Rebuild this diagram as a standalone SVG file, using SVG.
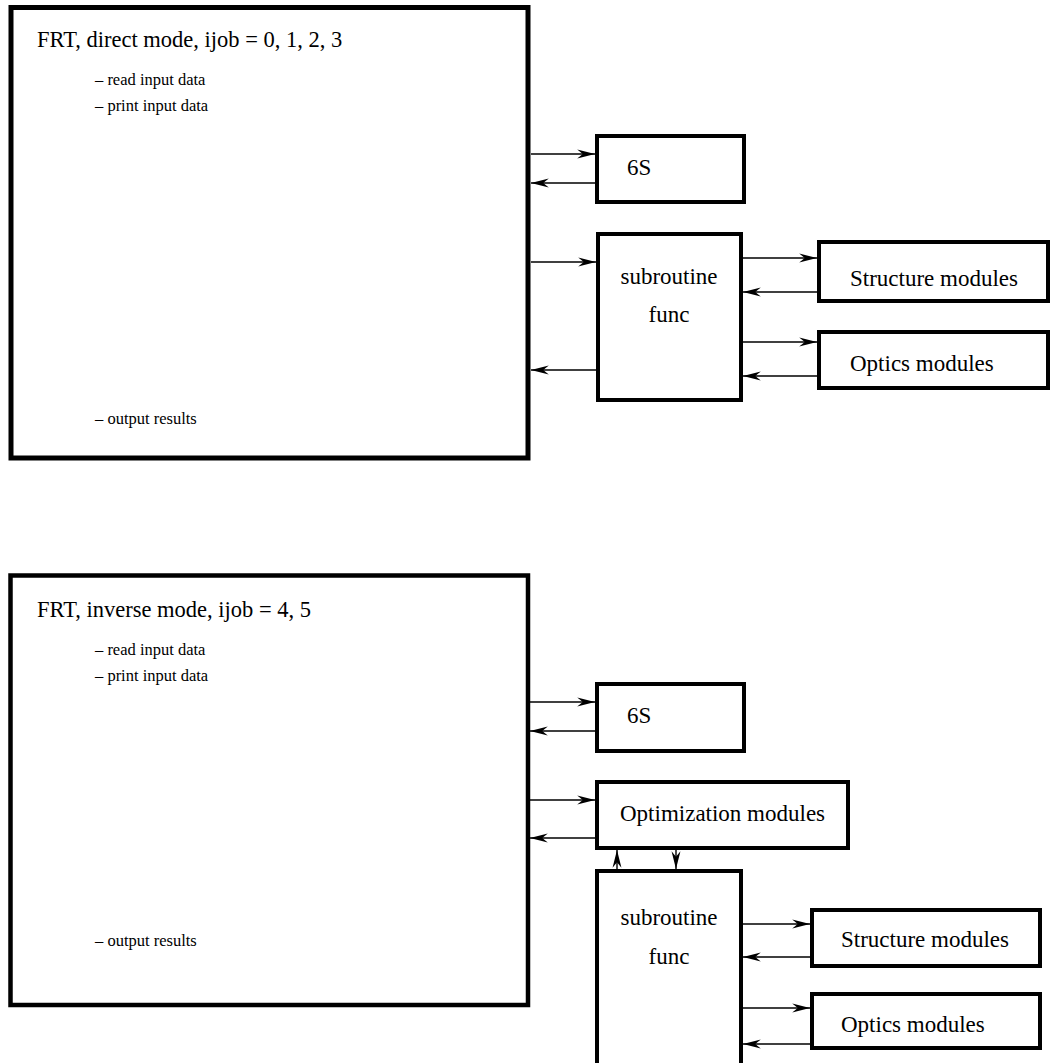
<svg xmlns="http://www.w3.org/2000/svg" width="1050" height="1063" viewBox="0 0 1050 1063">
<style>
text{font-family:"Liberation Serif","Times New Roman",serif;fill:#000}
.title{font-size:22.5px}
.item{font-size:16.5px}
.lbl{font-size:23px}
.big{fill:#fff;stroke:#000;stroke-width:5}
.box{fill:#fff;stroke:#000;stroke-width:4}
.c line{stroke:#000;stroke-width:1.4;marker-end:url(#ah)}
</style>
<defs>
<marker id="ah" markerUnits="userSpaceOnUse" markerWidth="20" markerHeight="12" viewBox="-17 -5 18 10" refX="0" refY="0" orient="auto">
<path d="M0,0 L-16,-4 L-11,0 L-16,4 z" fill="#000"/>
</marker>
</defs>
<g id="frt-direct">
<rect class="big" x="11" y="7.5" width="517" height="450.5"/>
<text class="title" x="37" y="47">FRT, direct mode, ijob = 0, 1, 2, 3</text>
<text class="item" x="95" y="85">– read input data</text>
<text class="item" x="95" y="111">– print input data</text>
<text class="item" x="95" y="424">– output results</text>
</g>
<g id="sixs-1">
<rect class="box" x="597" y="136" width="147" height="66"/>
<text class="lbl" x="627" y="175">6S</text>
</g>
<g id="func-1">
<rect class="box" x="598" y="234" width="143" height="166"/>
<text class="lbl" x="669" y="284" text-anchor="middle">subroutine</text>
<text class="lbl" x="669" y="322" text-anchor="middle">func</text>
</g>
<g id="struct-1">
<rect class="box" x="819" y="242" width="229" height="59"/>
<text class="lbl" x="850" y="286">Structure modules</text>
</g>
<g id="optics-1">
<rect class="box" x="819" y="332" width="229" height="56"/>
<text class="lbl" x="850" y="371">Optics modules</text>
</g>
<g id="frt-inverse">
<rect class="big" x="10.5" y="575.5" width="517.5" height="429.5" style="stroke-width:4.5"/>
<text class="title" x="37" y="617">FRT, inverse mode, ijob = 4, 5</text>
<text class="item" x="95" y="655">– read input data</text>
<text class="item" x="95" y="681">– print input data</text>
<text class="item" x="95" y="946">– output results</text>
</g>
<g id="sixs-2">
<rect class="box" x="597" y="684" width="147" height="67"/>
<text class="lbl" x="627" y="723">6S</text>
</g>
<g id="optim">
<rect class="box" x="597" y="782" width="251" height="66"/>
<text class="lbl" x="620" y="821">Optimization modules</text>
</g>
<g id="func-2">
<rect class="box" x="597" y="871" width="144" height="194"/>
<text class="lbl" x="669" y="925" text-anchor="middle">subroutine</text>
<text class="lbl" x="669" y="964" text-anchor="middle">func</text>
</g>
<g id="struct-2">
<rect class="box" x="812" y="910" width="228" height="56"/>
<text class="lbl" x="841" y="947">Structure modules</text>
</g>
<g id="optics-2">
<rect class="box" x="812" y="994" width="228" height="54"/>
<text class="lbl" x="841" y="1032">Optics modules</text>
</g>
<g id="connectors" class="c">
<line x1="531" y1="154" x2="595" y2="154"/>
<line x1="595" y1="183" x2="531" y2="183"/>
<line x1="531" y1="262" x2="596" y2="262"/>
<line x1="596" y1="370" x2="531" y2="370"/>
<line x1="743" y1="258" x2="817" y2="258"/>
<line x1="817" y1="292" x2="743" y2="292"/>
<line x1="743" y1="342" x2="817" y2="342"/>
<line x1="817" y1="376" x2="743" y2="376"/>
<line x1="530" y1="702" x2="595" y2="702"/>
<line x1="595" y1="731" x2="530" y2="731"/>
<line x1="530" y1="800" x2="595" y2="800"/>
<line x1="595" y1="838" x2="530" y2="838"/>
<line x1="617" y1="869" x2="617" y2="850"/>
<line x1="676" y1="850" x2="676" y2="869"/>
<line x1="743" y1="924" x2="810" y2="924"/>
<line x1="810" y1="957" x2="743" y2="957"/>
<line x1="743" y1="1008" x2="810" y2="1008"/>
<line x1="810" y1="1044" x2="743" y2="1044"/>
</g>
</svg>
